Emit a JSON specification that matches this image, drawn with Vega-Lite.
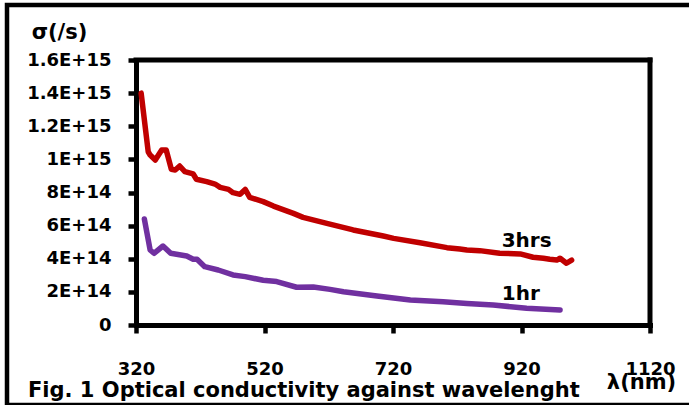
{
  "$schema": "https://vega.github.io/schema/vega-lite/v6.json",
  "width": 692,
  "height": 400,
  "autosize": {"type": "none"},
  "padding": {"left": 7, "top": 5, "right": -10, "bottom": 0},
  "background": "white",
  "config": {"view": {"stroke": "black", "strokeWidth": 4.5}, "font": "DejaVu Sans"},
  "title": {"text": "Fig. 1 Optical conductivity against wavelenght", "orient": "bottom", "anchor": "start", "frame": "group", "offset": -8, "baseline": "alphabetic", "dx": 21, "font": "DejaVu Sans", "fontSize": 21, "fontWeight": "bold", "color": "black"},
  "datasets": {
    "curves": [
      {"series": "3hrs", "wavelength": 328, "sigma": 1.40e15},
      {"series": "3hrs", "wavelength": 339, "sigma": 1.046e15},
      {"series": "3hrs", "wavelength": 342, "sigma": 1.026e15},
      {"series": "3hrs", "wavelength": 350, "sigma": 0.996e15},
      {"series": "3hrs", "wavelength": 360, "sigma": 1.057e15},
      {"series": "3hrs", "wavelength": 367, "sigma": 1.057e15},
      {"series": "3hrs", "wavelength": 375, "sigma": 0.940e15},
      {"series": "3hrs", "wavelength": 381, "sigma": 0.936e15},
      {"series": "3hrs", "wavelength": 388, "sigma": 0.960e15},
      {"series": "3hrs", "wavelength": 396, "sigma": 0.926e15},
      {"series": "3hrs", "wavelength": 409, "sigma": 0.912e15},
      {"series": "3hrs", "wavelength": 414, "sigma": 0.880e15},
      {"series": "3hrs", "wavelength": 430, "sigma": 0.866e15},
      {"series": "3hrs", "wavelength": 443, "sigma": 0.851e15},
      {"series": "3hrs", "wavelength": 451, "sigma": 0.831e15},
      {"series": "3hrs", "wavelength": 464, "sigma": 0.819e15},
      {"series": "3hrs", "wavelength": 471, "sigma": 0.799e15},
      {"series": "3hrs", "wavelength": 482, "sigma": 0.789e15},
      {"series": "3hrs", "wavelength": 490, "sigma": 0.819e15},
      {"series": "3hrs", "wavelength": 497, "sigma": 0.771e15},
      {"series": "3hrs", "wavelength": 518, "sigma": 0.745e15},
      {"series": "3hrs", "wavelength": 534, "sigma": 0.718e15},
      {"series": "3hrs", "wavelength": 565, "sigma": 0.674e15},
      {"series": "3hrs", "wavelength": 580, "sigma": 0.650e15},
      {"series": "3hrs", "wavelength": 617, "sigma": 0.614e15},
      {"series": "3hrs", "wavelength": 658, "sigma": 0.574e15},
      {"series": "3hrs", "wavelength": 705, "sigma": 0.537e15},
      {"series": "3hrs", "wavelength": 721, "sigma": 0.523e15},
      {"series": "3hrs", "wavelength": 762, "sigma": 0.497e15},
      {"series": "3hrs", "wavelength": 804, "sigma": 0.467e15},
      {"series": "3hrs", "wavelength": 824, "sigma": 0.459e15},
      {"series": "3hrs", "wavelength": 835, "sigma": 0.453e15},
      {"series": "3hrs", "wavelength": 855, "sigma": 0.449e15},
      {"series": "3hrs", "wavelength": 886, "sigma": 0.433e15},
      {"series": "3hrs", "wavelength": 918, "sigma": 0.429e15},
      {"series": "3hrs", "wavelength": 938, "sigma": 0.409e15},
      {"series": "3hrs", "wavelength": 954, "sigma": 0.403e15},
      {"series": "3hrs", "wavelength": 964, "sigma": 0.397e15},
      {"series": "3hrs", "wavelength": 975, "sigma": 0.392e15},
      {"series": "3hrs", "wavelength": 980, "sigma": 0.403e15},
      {"series": "3hrs", "wavelength": 990, "sigma": 0.373e15},
      {"series": "3hrs", "wavelength": 998, "sigma": 0.392e15},
      {"series": "1hr", "wavelength": 333, "sigma": 0.640e15},
      {"series": "1hr", "wavelength": 342, "sigma": 0.453e15},
      {"series": "1hr", "wavelength": 348, "sigma": 0.433e15},
      {"series": "1hr", "wavelength": 362, "sigma": 0.477e15},
      {"series": "1hr", "wavelength": 374, "sigma": 0.433e15},
      {"series": "1hr", "wavelength": 399, "sigma": 0.417e15},
      {"series": "1hr", "wavelength": 409, "sigma": 0.397e15},
      {"series": "1hr", "wavelength": 415, "sigma": 0.397e15},
      {"series": "1hr", "wavelength": 427, "sigma": 0.352e15},
      {"series": "1hr", "wavelength": 448, "sigma": 0.332e15},
      {"series": "1hr", "wavelength": 471, "sigma": 0.302e15},
      {"series": "1hr", "wavelength": 490, "sigma": 0.292e15},
      {"series": "1hr", "wavelength": 518, "sigma": 0.270e15},
      {"series": "1hr", "wavelength": 539, "sigma": 0.262e15},
      {"series": "1hr", "wavelength": 570, "sigma": 0.228e15},
      {"series": "1hr", "wavelength": 596, "sigma": 0.230e15},
      {"series": "1hr", "wavelength": 622, "sigma": 0.215e15},
      {"series": "1hr", "wavelength": 643, "sigma": 0.201e15},
      {"series": "1hr", "wavelength": 695, "sigma": 0.175e15},
      {"series": "1hr", "wavelength": 747, "sigma": 0.151e15},
      {"series": "1hr", "wavelength": 798, "sigma": 0.141e15},
      {"series": "1hr", "wavelength": 835, "sigma": 0.130e15},
      {"series": "1hr", "wavelength": 876, "sigma": 0.121e15},
      {"series": "1hr", "wavelength": 928, "sigma": 0.101e15},
      {"series": "1hr", "wavelength": 980, "sigma": 0.091e15}
    ]
  },
  "layer": [
    {
      "data": {"values": [{}]},
      "mark": {"type": "rule", "color": "black", "strokeWidth": 5, "strokeCap": "square"},
      "encoding": {"x": {"datum": 320}, "x2": {"datum": 1120}, "y": {"datum": 1.6e15}}
    },
    {
      "data": {"values": [{}]},
      "mark": {"type": "rule", "color": "black", "strokeWidth": 5, "strokeCap": "square"},
      "encoding": {"x": {"datum": 1120}, "y": {"datum": 0}, "y2": {"datum": 1.6e15}}
    },
    {
      "data": {"name": "curves"},
      "mark": {"type": "line", "strokeWidth": 5.5, "strokeJoin": "round", "strokeCap": "round"},
      "encoding": {
        "x": {
          "field": "wavelength", "type": "quantitative",
          "scale": {"domain": [320, 1120], "range": [129, 643], "nice": false, "zero": false},
          "axis": {
            "values": [320, 520, 720, 920, 1120], "format": "d", "orient": "bottom", "offset": -80,
            "domainColor": "black", "domainWidth": 5, "domainCap": "square",
            "tickColor": "black", "tickWidth": 4.5, "tickSize": 8,
            "labelFont": "DejaVu Sans", "labelFontSize": 18, "labelFontWeight": "bold", "labelColor": "black",
            "labelPadding": 27, "labelFlush": false, "labelOverlap": false, "grid": false,
            "title": "λ(nm)", "titleFont": "DejaVu Sans", "titleFontSize": 21, "titleFontWeight": "bold", "titleColor": "black",
            "titleX": 634, "titleY": 63, "titleAlign": "center", "titleBaseline": "alphabetic"
          }
        },
        "y": {
          "field": "sigma", "type": "quantitative",
          "scale": {"domain": [0, 1.6e15], "range": [320, 55], "nice": false},
          "axis": {
            "values": [0, 2e14, 4e14, 6e14, 8e14, 1e15, 1.2e15, 1.4e15, 1.6e15], "orient": "left", "offset": -129,
            "domainColor": "black", "domainWidth": 5, "domainCap": "square",
            "tickColor": "black", "tickWidth": 4.5, "tickSize": 8,
            "labelFont": "DejaVu Sans", "labelFontSize": 18, "labelFontWeight": "bold", "labelColor": "black",
            "labelPadding": 17, "labelOverlap": false, "grid": false,
            "labelExpr": "datum.value == 0 ? '0' : (round(datum.value / pow(10, floor(log(datum.value) / LN10 + 1e-9)) * 10) / 10) + 'E+' + floor(log(datum.value) / LN10 + 1e-9)",
            "title": "σ(/s)", "titleFont": "DejaVu Sans", "titleFontSize": 21, "titleFontWeight": "bold", "titleColor": "black",
            "titleAngle": 0, "titleX": -77, "titleY": 33, "titleAlign": "center", "titleBaseline": "alphabetic"
          }
        },
        "color": {"field": "series", "type": "nominal", "scale": {"domain": ["3hrs", "1hr"], "range": ["#C00000", "#7030A0"]}, "legend": null}
      }
    },
    {
      "data": {"values": [{}]},
      "mark": {"type": "text", "font": "DejaVu Sans", "fontSize": 20, "fontWeight": "bold", "color": "black", "align": "center", "baseline": "alphabetic"},
      "encoding": {"x": {"datum": 928}, "y": {"datum": 4.71e14}, "text": {"value": "3hrs"}}
    },
    {
      "data": {"values": [{}]},
      "mark": {"type": "text", "font": "DejaVu Sans", "fontSize": 20, "fontWeight": "bold", "color": "black", "align": "center", "baseline": "alphabetic"},
      "encoding": {"x": {"datum": 919}, "y": {"datum": 1.51e14}, "text": {"value": "1hr"}}
    }
  ]
}
